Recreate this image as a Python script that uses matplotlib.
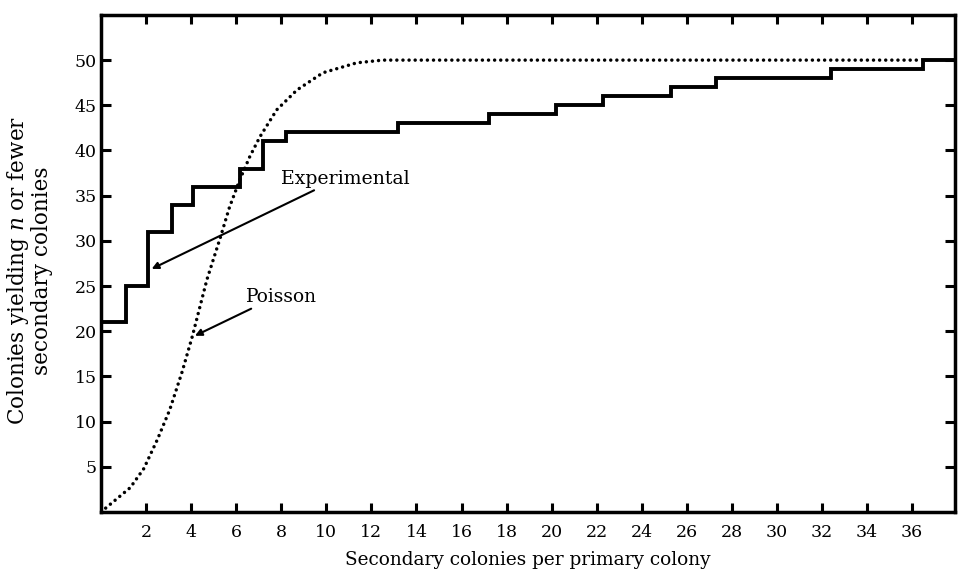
import matplotlib
matplotlib.use("Agg")
import matplotlib.pyplot as plt

plt.rcParams['font.family'] = ['DejaVu Serif']
plt.rcParams['mathtext.fontset'] = 'dejavuserif'

# Experimental cumulative step data (x = secondary colonies, y = colonies yielding n or fewer)
exp_x = [0, 1.1, 2.1, 3.15, 4.1, 6.15, 7.2, 8.2, 13.2, 17.2, 20.2, 22.3, 25.3, 27.3, 32.4, 36.5, 37.9]
exp_y = [21, 25, 31, 34, 36, 38, 41, 42, 43, 44, 45, 46, 47, 48, 49, 50, 50]

# Poisson expectation (dotted curve)
poi_x = [0, 1.3, 1.9, 2.5, 3.05, 3.6, 4.05, 4.7, 5.3, 5.7, 6.15, 6.6, 7.05, 7.8, 8.7, 9.85, 11.35, 12.5, 36.4]
poi_y = [0, 2.7, 4.8, 8.0, 11.3, 15.5, 19.4, 25.7, 30.4, 33.7, 36.7, 39.3, 41.5, 44.5, 46.7, 48.6, 49.7, 50, 50]

x_ticks = [2, 4, 6, 8, 10, 12, 14, 16, 18, 20, 22, 24, 26, 28, 30, 32, 34, 36]
y_ticks = [5, 10, 15, 20, 25, 30, 35, 40, 45, 50]

fig = plt.figure(figsize=(9.59, 5.74), dpi=100)
ax = fig.add_axes([0.1053, 0.108, 0.8905, 0.866])

ax.step(exp_x, exp_y, where='post', color='black', lw=2.8, solid_joinstyle='miter')
ax.plot(poi_x, poi_y, color='black', lw=2.5, linestyle=(0, (0.01, 1.75)),
        dash_capstyle='round')

ax.set_xlim(0, 37.9)
ax.set_ylim(0, 55)
ax.set_xticks(x_ticks)
ax.set_yticks(y_ticks)
ax.set_xticklabels([str(t) for t in x_ticks])
ax.set_yticklabels([str(t) for t in y_ticks])

for s in ax.spines.values():
    s.set_linewidth(2.5)

ax.tick_params(axis='x', direction='in', length=6.5, width=2.2, top=True, bottom=True,
               labelsize=12.5, pad=8.5)
ax.tick_params(axis='y', direction='in', length=7, width=2.2, left=True, right=True,
               labelsize=12.5, pad=3)

ax.set_xlabel('Secondary colonies per primary colony', fontsize=13.3)
ax.xaxis.set_label_coords(0.5, -0.078)
ax.set_ylabel('Colonies yielding $n$ or fewer\nsecondary colonies', fontsize=15.5,
              linespacing=1.0)
ax.yaxis.set_label_coords(-0.056, 0.485)

ax.annotate('Experimental', xy=(2.25, 26.9), xytext=(8.0, 36.9),
            fontsize=13.6, va='center', ha='left',
            arrowprops=dict(arrowstyle='-|>', color='black', lw=1.5,
                            mutation_scale=10, shrinkA=0, shrinkB=0,
                            relpos=(0.3, 0.0)))
ax.annotate('Poisson', xy=(4.17, 19.5), xytext=(6.45, 23.8),
            fontsize=13.4, va='center', ha='left',
            arrowprops=dict(arrowstyle='-|>', color='black', lw=1.5,
                            mutation_scale=10, shrinkA=0, shrinkB=0,
                            relpos=(0.15, 0.0)))

fig.savefig('out.png', dpi=100)
